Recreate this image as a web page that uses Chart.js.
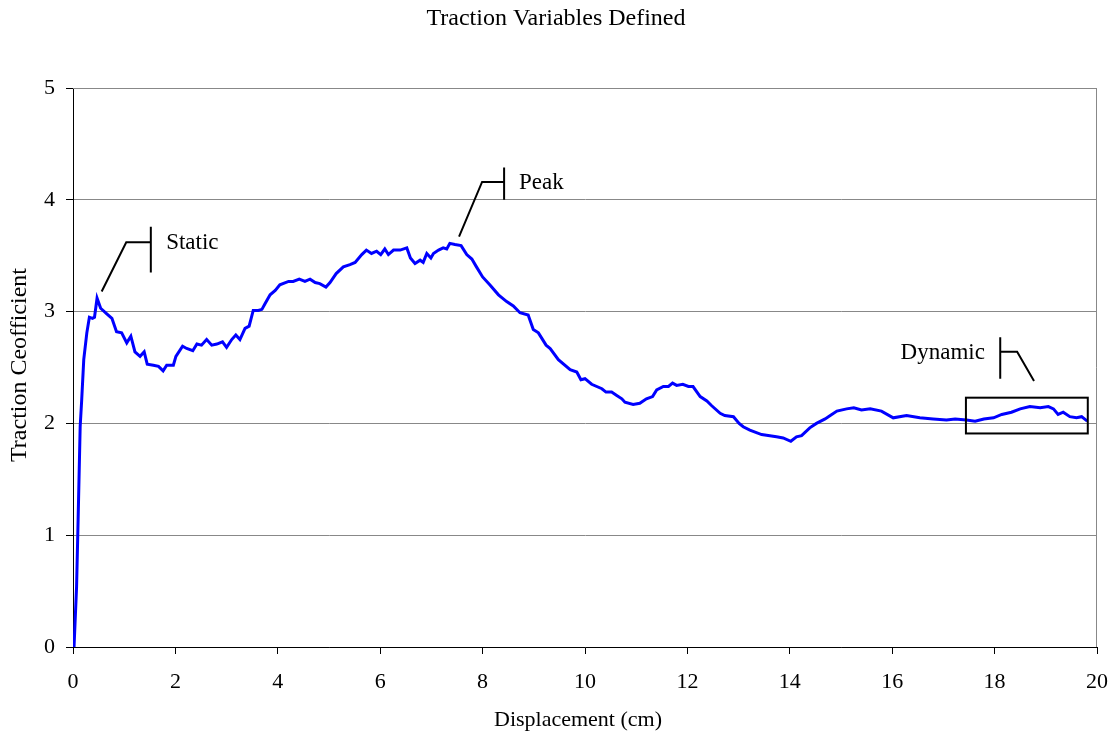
<!DOCTYPE html>
<html>
<head>
<meta charset="utf-8">
<script src="https://cdn.jsdelivr.net/npm/chart.js@4"></script>
<style>
    html, body { margin: 0; padding: 0; background: #fff; }
    #wrap { width: 1115px; height: 738px; }
</style>
</head>
<body>
<div id="wrap"><canvas id="myChart" width="1115" height="738"></canvas></div>
<script>
const chartTitle = 'Traction Variables Defined';
const xTitle = 'Displacement (cm)';
const yTitle = 'Traction Ceofficient';

// displacement (cm)
const displacement = [
    0.02, 0.07, 0.10, 0.14, 0.17, 0.21, 0.27, 0.32, 0.38, 0.42,
    0.47, 0.54, 0.66, 0.76, 0.85, 0.95, 1.05, 1.13, 1.21, 1.31,
    1.39, 1.45, 1.57, 1.67, 1.76, 1.83, 1.96, 2.01, 2.14, 2.22,
    2.34, 2.42, 2.51, 2.61, 2.71, 2.81, 2.92, 3.00, 3.10, 3.18,
    3.26, 3.36, 3.44, 3.52, 3.62, 3.69, 3.75, 3.85, 3.95, 4.04,
    4.21, 4.30, 4.42, 4.53, 4.63, 4.73, 4.82, 4.94, 5.02, 5.14,
    5.28, 5.41, 5.51, 5.64, 5.73, 5.83, 5.93, 6.01, 6.09, 6.16,
    6.26, 6.39, 6.52, 6.59, 6.68, 6.78, 6.84, 6.91, 6.99, 7.04,
    7.14, 7.23, 7.30, 7.36, 7.46, 7.58, 7.69, 7.79, 7.88, 8.00,
    8.14, 8.31, 8.47, 8.60, 8.73, 8.89, 8.99, 9.09, 9.24, 9.32,
    9.48, 9.71, 9.84, 9.92, 10.00, 10.13, 10.33, 10.41, 10.52, 10.62,
    10.72, 10.78, 10.94, 11.07, 11.20, 11.32, 11.40, 11.53, 11.63, 11.71,
    11.79, 11.91, 12.02, 12.11, 12.25, 12.38, 12.47, 12.64, 12.73, 12.90,
    13.01, 13.09, 13.22, 13.45, 13.61, 13.74, 13.87, 14.02, 14.13, 14.23,
    14.39, 14.52, 14.69, 14.79, 14.92, 15.11, 15.25, 15.40, 15.57, 15.79,
    16.02, 16.28, 16.54, 16.80, 17.06, 17.23, 17.45, 17.62, 17.79, 17.98,
    18.14, 18.33, 18.50, 18.69, 18.89, 19.05, 19.15, 19.24, 19.34, 19.47,
    19.60, 19.70, 19.81
];

// traction coefficient
const traction = [
    0.00, 0.54, 1.14, 1.97, 2.21, 2.57, 2.81, 2.95, 2.94, 2.95,
    3.12, 3.03, 2.98, 2.94, 2.82, 2.81, 2.72, 2.78, 2.64, 2.60,
    2.64, 2.53, 2.52, 2.51, 2.47, 2.52, 2.52, 2.60, 2.69, 2.67,
    2.65, 2.71, 2.70, 2.75, 2.70, 2.71, 2.73, 2.68, 2.75, 2.79,
    2.75, 2.85, 2.87, 3.01, 3.01, 3.02, 3.07, 3.15, 3.19, 3.24,
    3.27, 3.27, 3.29, 3.27, 3.29, 3.26, 3.25, 3.22, 3.26, 3.34,
    3.40, 3.42, 3.44, 3.51, 3.55, 3.52, 3.54, 3.51, 3.56, 3.51,
    3.55, 3.55, 3.57, 3.48, 3.43, 3.46, 3.44, 3.52, 3.48, 3.52,
    3.55, 3.57, 3.56, 3.61, 3.60, 3.59, 3.51, 3.47, 3.40, 3.31,
    3.24, 3.15, 3.09, 3.05, 2.99, 2.97, 2.84, 2.81, 2.70, 2.67,
    2.57, 2.48, 2.46, 2.39, 2.40, 2.35, 2.31, 2.28, 2.28, 2.25,
    2.22, 2.19, 2.17, 2.18, 2.22, 2.24, 2.30, 2.33, 2.33, 2.36,
    2.34, 2.35, 2.33, 2.33, 2.24, 2.20, 2.16, 2.09, 2.07, 2.06,
    2.00, 1.97, 1.94, 1.90, 1.89, 1.88, 1.87, 1.84, 1.88, 1.89,
    1.96, 2.00, 2.04, 2.07, 2.11, 2.13, 2.14, 2.12, 2.13, 2.11,
    2.05, 2.07, 2.05, 2.04, 2.03, 2.04, 2.03, 2.02, 2.04, 2.05,
    2.08, 2.10, 2.13, 2.15, 2.14, 2.15, 2.13, 2.08, 2.10, 2.06,
    2.05, 2.06, 2.02
];

const xTicks = [0, 2, 4, 6, 8, 10, 12, 14, 16, 18, 20];
const yTicks = [0, 1, 2, 3, 4, 5];

// callouts, in data units: bar at barX, elbow at elbowX/elbowY, pointing to tip
const callouts = [
    { text: 'Static', barX: 1.52, barTop: 3.76, barBottom: 3.35, elbowX: 1.04, elbowY: 3.62, tipX: 0.56, tipY: 3.18, textX: 1.82, textY: 3.61, align: 'left' },
    { text: 'Peak', barX: 8.42, barTop: 4.29, barBottom: 4.00, elbowX: 7.99, elbowY: 4.16, tipX: 7.54, tipY: 3.67, textX: 8.71, textY: 4.15, align: 'left' },
    { text: 'Dynamic', barX: 18.11, barTop: 2.77, barBottom: 2.40, elbowX: 18.44, elbowY: 2.64, tipX: 18.77, tipY: 2.38, textX: 17.81, textY: 2.63, align: 'right' }
];
const dynamicBox = { x1: 17.44, x2: 19.82, y1: 2.23, y2: 1.91 };

const serif = '"Liberation Serif", "Times New Roman", serif';

const decorations = {
    id: 'decorations',
    afterDraw(chart) {
        const ctx = chart.ctx;
        const area = chart.chartArea;
        const xs = chart.scales.x;
        const ys = chart.scales.y;

        ctx.save();
        // top + right frame
        ctx.strokeStyle = '#888';
        ctx.lineWidth = 1;
        ctx.beginPath();
        ctx.moveTo(area.left, area.top + 0.5);
        ctx.lineTo(area.right - 0.5, area.top + 0.5);
        ctx.lineTo(area.right - 0.5, area.bottom);
        ctx.stroke();

        // titles
        ctx.fillStyle = '#000';
        ctx.textAlign = 'center';
        ctx.textBaseline = 'middle';
        ctx.font = '24px ' + serif;
        ctx.fillText(chartTitle, 556, 19);
        ctx.font = '22px ' + serif;
        ctx.fillText(xTitle, 578, 720);
        ctx.save();
        ctx.translate(20, 365);
        ctx.rotate(-Math.PI / 2);
        ctx.font = '24px ' + serif;
        ctx.fillText(yTitle, 0, 0);
        ctx.restore();

        // callouts
        ctx.font = '23px ' + serif;
        ctx.strokeStyle = '#000';
        ctx.lineWidth = 2;
        for (const c of callouts) {
            ctx.beginPath();
            ctx.moveTo(xs.getPixelForValue(c.barX), ys.getPixelForValue(c.barTop));
            ctx.lineTo(xs.getPixelForValue(c.barX), ys.getPixelForValue(c.barBottom));
            ctx.moveTo(xs.getPixelForValue(c.barX), ys.getPixelForValue(c.elbowY));
            ctx.lineTo(xs.getPixelForValue(c.elbowX), ys.getPixelForValue(c.elbowY));
            ctx.lineTo(xs.getPixelForValue(c.tipX), ys.getPixelForValue(c.tipY));
            ctx.stroke();
            ctx.textAlign = c.align;
            ctx.fillText(c.text, xs.getPixelForValue(c.textX), ys.getPixelForValue(c.textY));
        }

        const bx1 = xs.getPixelForValue(dynamicBox.x1);
        const bx2 = xs.getPixelForValue(dynamicBox.x2);
        const by1 = ys.getPixelForValue(dynamicBox.y1);
        const by2 = ys.getPixelForValue(dynamicBox.y2);
        ctx.strokeRect(bx1, by1, bx2 - bx1, by2 - by1);
        ctx.restore();
    }
};

const points = displacement.map((x, i) => ({ x: x, y: traction[i] }));

new Chart(document.getElementById('myChart'), {
    type: 'line',
    data: {
        datasets: [{
            data: points,
            borderColor: '#0000ff',
            borderWidth: 3,
            pointRadius: 0,
            fill: false,
            tension: 0
        }]
    },
    options: {
        responsive: false,
        animation: false,
        layout: { padding: { left: 0, right: 18, top: 88, bottom: 0 } },
        plugins: {
            legend: { display: false },
            tooltip: { enabled: false }
        },
        scales: {
            x: {
                type: 'linear',
                min: 0,
                max: 20,
                afterBuildTicks: scale => { scale.ticks = xTicks.map(v => ({ value: v })); },
                afterFit: scale => {
                    scale.height = 91;
                    scale.paddingLeft = 0;
                    scale.paddingRight = 0;
                },
                grid: { drawOnChartArea: false, drawTicks: true, tickLength: 7, color: '#000' },
                border: { color: '#000', width: 1 },
                ticks: { color: '#000', padding: 15, maxRotation: 0, font: { family: serif, size: 22 } }
            },
            y: {
                min: 0,
                max: 5,
                afterBuildTicks: scale => { scale.ticks = yTicks.map(v => ({ value: v })); },
                afterFit: scale => {
                    scale.width = 73;
                    scale.paddingTop = 0;
                    scale.paddingBottom = 0;
                },
                grid: { color: '#888', tickColor: '#000', tickLength: 7 },
                border: { color: '#000', width: 1 },
                ticks: { color: '#000', padding: 11, font: { family: serif, size: 22 } }
            }
        }
    },
    plugins: [decorations]
});
</script>
</body>
</html>
